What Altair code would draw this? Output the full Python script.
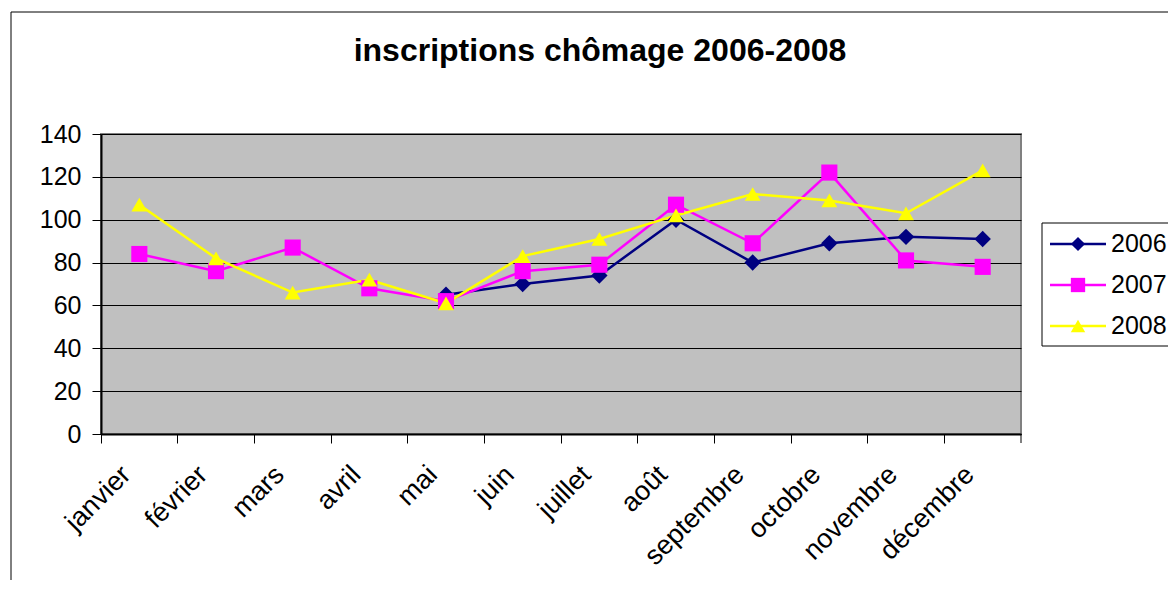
import altair as alt
import pandas as pd

# ---- data ----
months = ["janvier", "février", "mars", "avril", "mai", "juin",
          "juillet", "août", "septembre", "octobre", "novembre", "décembre"]
years = ["2006", "2007", "2008"]
v2006 = [None, None, None, None, 65, 70, 74, 100, 80, 89, 92, 91]
v2007 = [84, 76, 87, 68, 62, 76, 79, 107, 89, 122, 81, 78]
v2008 = [107, 82, 66, 72, 61, 83, 91, 102, 112, 109, 103, 123]
y_ticks = [0, 20, 40, 60, 80, 100, 120, 140]
title_text = "inscriptions chômage 2006-2008"

colors = ["#000080", "#FF00FF", "#FFFF00"]
shapes = ["diamond", "square", "triangle-up"]
sizes = [270, 250, 290]
leg_sizes = [200, 210, 230]

rows = []
for year, vals in zip(years, [v2006, v2007, v2008]):
    for m, v in zip(months, vals):
        rows.append({"mois": m, "annee": year, "valeur": v})
df = pd.DataFrame(rows)
legend_df = pd.DataFrame({"annee": years})
title_df = pd.DataFrame({"t": [title_text]})

FONT = "Liberation Sans"
W, H = 920, 300

color = alt.Color("annee:N", scale=alt.Scale(domain=years, range=colors), legend=None)
shape = alt.Shape("annee:N", scale=alt.Scale(domain=years, range=shapes), legend=None)
size = alt.Size("annee:N", scale=alt.Scale(domain=years, range=sizes), legend=None)

x = alt.X(
    "mois:N", sort=months, bandPosition=0.5,
    scale=alt.Scale(type="band", paddingInner=0, paddingOuter=0),
    axis=alt.Axis(title=None, bandPosition=0, labelOffset=-22, labelAngle=-45,
                  labelAlign="right", labelBaseline="top",
                  labelFontSize=27, labelFont=FONT, labelColor="black",
                  tickSize=9, tickColor="black", domainColor="black", domainWidth=2,
                  grid=False, labelPadding=18),
)
y = alt.Y(
    "valeur:Q",
    scale=alt.Scale(domain=[0, 140], nice=False),
    axis=alt.Axis(title=None, values=y_ticks, labelFontSize=25, labelFont=FONT,
                  labelColor="black", tickSize=9, tickColor="black",
                  domainColor="black", domainWidth=2, grid=True, gridColor="black",
                  gridWidth=1, labelPadding=11),
)

lines = alt.Chart(df).mark_line(strokeWidth=2.5).encode(x=x, y=y, color=color)
points = alt.Chart(df).mark_point(filled=True, opacity=1).encode(
    x=x, y=y, color=color, shape=shape, size=size)
main = alt.layer(lines, points)

# decorative outer frame, closing tick, title and legend box
frame = alt.Chart(alt.Data(values=[{}])).mark_rect(
    fillOpacity=0, stroke="black", strokeWidth=1).encode(
    x=alt.value(-90), x2=alt.value(1150), y=alt.value(-122), y2=alt.value(700))
end_tick = alt.Chart(alt.Data(values=[{}])).mark_rule(color="black", strokeWidth=1).encode(
    x=alt.value(W), y=alt.value(H), y2=alt.value(H + 9))
title = alt.Chart(title_df).mark_text(
    font=FONT, fontSize=32, fontWeight="bold", color="black",
    align="center", baseline="alphabetic").encode(
    x=alt.value(499), y=alt.value(-73), text="t:N")
box = alt.Chart(alt.Data(values=[{}])).mark_rect(
    fill="white", stroke="black", strokeWidth=1).encode(
    x=alt.value(941), x2=alt.value(1150), y=alt.value(89), y2=alt.value(212))

ly = alt.Y("annee:N", scale=alt.Scale(type="point", domain=years, range=[110, 192], padding=0),
           axis=None)
leg_lines = alt.Chart(legend_df).mark_rule(strokeWidth=2.5).encode(
    x=alt.value(949), x2=alt.value(1005), y=ly, color=color)
leg_points = alt.Chart(legend_df).mark_point(filled=True, opacity=1).encode(
    x=alt.value(977), y=ly, color=color, shape=shape,
    size=alt.Size("annee:N", scale=alt.Scale(domain=years, range=leg_sizes), legend=None))
leg_text = alt.Chart(legend_df).mark_text(
    align="left", baseline="middle", fontSize=25, font=FONT, color="black").encode(
    x=alt.value(1010), y=ly, text="annee:N")
deco = alt.layer(frame, end_tick, title, box, leg_lines, leg_points, leg_text)

chart = alt.layer(main, deco).resolve_scale(y="independent", size="independent").properties(
    width=W, height=H,
    autosize=alt.AutoSizeParams(type="none"),
    padding={"left": 93, "top": 126, "right": 147, "bottom": 146},
    background="white",
).configure_view(fill="#C0C0C0", stroke="#808080", strokeWidth=2)

chart.save("out.html", embed_options={"renderer": "svg", "actions": False})
